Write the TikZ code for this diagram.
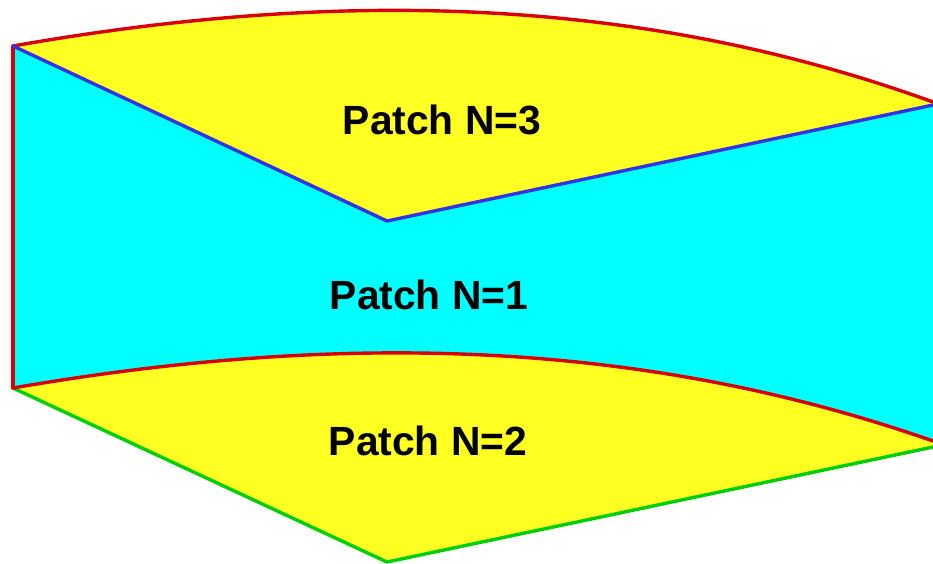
\documentclass[tikz,border=0pt]{standalone}
\usepackage{fontspec}
\setmainfont{Liberation Sans}
\definecolor{pyellow}{HTML}{FFFF22}
\definecolor{pcyan}{HTML}{00FFFF}
\definecolor{pred}{HTML}{D80000}
\definecolor{pblue}{HTML}{3333E6}
\definecolor{pgreen}{HTML}{00D000}
\tikzset{
  edgeline/.style={line width=3.4pt,line cap=round,line join=round},
  patchlabel/.style={font=\bfseries\fontsize{40.8}{44}\selectfont,text=black,inner sep=0pt,anchor=center}
}
\begin{document}
\begin{tikzpicture}[x=1pt,y=-1pt]
\useasboundingbox (0,0) rectangle (933,563);
\fill[white] (0,0) rectangle (933,563);
\coordinate (tl) at (13,46);
\coordinate (tr) at (933,102);
\coordinate (mb) at (387,221);
\coordinate (mr) at (933,105);
\coordinate (bl) at (13,388);
\coordinate (br) at (933,441);
\coordinate (gb) at (387,562);
\coordinate (gr) at (933,447);
% fills
\fill[pyellow] (tl) .. controls (320,-8) and (627,-9) .. (tr) -- (mr) -- (mb) -- cycle;
\fill[pcyan] (tl) -- (mb) -- (mr) -- (br) .. controls (627,334) and (320,335) .. (bl) -- cycle;
\fill[pyellow] (bl) .. controls (320,335) and (627,334) .. (br) -- (gr) -- (gb) -- cycle;
% edges
\draw[edgeline,pgreen] (bl) -- (gb) -- (gr);
\draw[edgeline,pred] (tl) -- (bl);
\draw[edgeline,pred] (tl) .. controls (320,-8) and (627,-9) .. (tr);
\draw[edgeline,pred] (bl) .. controls (320,335) and (627,334) .. (br);
\draw[edgeline,pblue] (tl) -- (mb) -- (mr);
% labels
\node[patchlabel] (p3) at (442,120) {Patch N=3};
\node[patchlabel] (p1) at (429,295) {Patch N=1};
\node[patchlabel] (p2) at (428,441) {Patch N=2};
\end{tikzpicture}
\end{document}
